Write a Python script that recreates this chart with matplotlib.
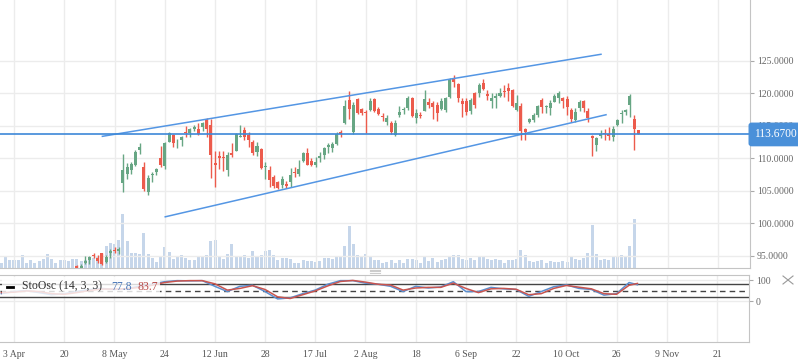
import numpy as np
import matplotlib
matplotlib.use("Agg")
import matplotlib.pyplot as plt
from matplotlib.lines import Line2D
from matplotlib.patches import Rectangle

plt.rcParams['font.family'] = ['Liberation Serif', 'DejaVu Serif']

# x axis = trading day index, one tick label every 12 bars
tick_idx = list(range(0, 169, 12))
tick_labels = ["3 Apr", "20", "8 May", "24", "12 Jun", "28", "17 Jul", "2 Aug",
               "18", "6 Sep", "22", "10 Oct", "26", "9 Nov", "21"]

# daily candles, first one at bar 15
candle_start = 15
opens = [93.5, 93.2, 93.9, 94.35, 95.1, 94.66, 95.38, 94.09, 95.38, 95.78, 95.78,
         106.15, 107.58, 108.2, 108.97, 111.27, 108.61, 104.77, 107.43, 107.84, 110.0,
         108.81, 112.55, 113.58, 112.74, 112.81, 114.0, 113.84, 114.5, 114.5, 114.86,
         115.99, 115.12, 109.27, 110.35, 110.2, 108.2, 110.77, 111.17, 113.32, 114.35,
         113.58, 112.55, 111.01, 111.43, 108.61, 108.2, 107.17, 106.43, 105.89, 105.97,
         106.4, 107.93, 107.66, 109.63, 110.81, 109.58, 108.92, 110.04, 110.5, 111.69,
         111.53, 112.2, 114.04, 115.43, 118.97, 114.09, 119.07, 117.58, 117.17, 117.38,
         119.07, 117.55, 116.5, 115.58, 115.43, 113.63, 116.66, 117.38, 117.69, 119.32,
         116.15, 116.73, 117.32, 118.61, 118.46, 118.2, 117.66, 117.5, 119.47, 122.2,
         121.38, 118.81, 118.81, 117.32, 120.0, 120.0, 121.53, 119.89, 118.86, 119.32,
         119.63, 120.4, 120.77, 120.5, 117.43, 118.1, 114.5, 115.53, 115.89, 116.66,
         118.97, 117.93, 117.69, 118.7, 119.23, 119.32, 119.12, 117.43, 115.89, 117.78,
         118.81, 117.27, 113.47, 112.04, 113.43, 113.84, 113.69, 113.32, 115.12, 116.81,
         117.17, 118.2, 116.04, 114.35]
highs = [93.6, 93.8, 95.0, 95.0, 95.4, 95.1, 95.5, 95.1, 96.0, 96.4, 96.4,
         110.66, 109.23, 109.47, 111.27, 112.3, 109.47, 107.43, 107.93, 108.46, 111.89,
         112.55, 114.09, 113.7, 113.0, 113.4, 114.97, 114.61, 115.12, 115.38, 115.58,
         116.15, 116.04, 111.17, 111.12, 111.17, 111.01, 112.3, 113.9, 115.12, 114.86,
         114.0, 112.81, 112.55, 111.6, 109.43, 108.89, 107.43, 106.58, 107.27, 106.55,
         108.46, 108.61, 109.73, 111.01, 111.63, 110.04, 110.24, 111.01, 111.81, 112.3,
         112.55, 114.09, 114.35, 118.97, 120.35, 118.66, 119.27, 117.73, 117.47, 119.23,
         119.27, 117.94, 116.97, 116.66, 115.73, 115.89, 118.04, 117.94, 119.66, 119.47,
         117.66, 117.17, 120.5, 119.23, 118.81, 118.66, 119.23, 119.47, 122.3, 122.81,
         121.58, 119.23, 119.23, 119.23, 120.24, 121.58, 122.2, 120.5, 120.0, 120.0,
         120.86, 121.27, 121.53, 120.66, 119.73, 118.46, 114.7, 116.24, 116.92, 118.2,
         119.32, 118.2, 118.97, 119.84, 120.35, 119.47, 119.63, 117.69, 117.69, 118.97,
         118.97, 117.69, 113.55, 113.32, 114.35, 114.5, 114.86, 115.02, 116.04, 117.43,
         117.63, 119.89, 116.66, 114.35]
lows = [93.1, 93.1, 93.7, 93.7, 94.7, 93.9, 93.6, 93.9, 94.6, 95.4, 95.27,
        104.86, 106.81, 107.58, 108.81, 110.66, 104.97, 104.35, 106.4, 107.43, 108.61,
        108.3, 112.55, 111.78, 111.53, 111.93, 113.23, 113.32, 114.24, 113.58, 114.24,
        113.32, 106.97, 105.63, 108.43, 108.09, 107.27, 110.15, 111.1, 113.3, 112.81,
        111.74, 110.5, 110.35, 108.3, 106.81, 105.58, 105.47, 105.23, 105.38, 105.38,
        105.63, 107.17, 107.35, 109.47, 108.9, 108.81, 108.71, 109.47, 109.89, 110.77,
        111.01, 112.0, 113.32, 115.27, 116.12, 113.69, 116.81, 116.73, 113.93, 117.2,
        117.12, 116.66, 115.81, 115.12, 113.73, 113.5, 116.3, 116.81, 117.43, 116.4,
        115.47, 116.15, 117.2, 117.69, 115.97, 115.81, 117.43, 117.17, 119.23, 121.01,
        118.61, 116.4, 116.66, 116.77, 117.78, 119.39, 120.5, 118.97, 117.78, 117.78,
        119.47, 119.47, 118.81, 117.94, 117.27, 112.81, 112.81, 115.38, 115.63, 116.4,
        117.01, 116.92, 116.66, 118.61, 118.46, 117.69, 116.71, 115.63, 115.63, 117.27,
        117.17, 115.63, 110.4, 111.12, 113.17, 112.81, 112.81, 112.66, 115.0, 115.47,
        116.66, 116.4, 111.27, 113.67]
closes = [93.2, 93.5, 94.2, 94.8, 94.9, 94.24, 93.73, 94.86, 95.78, 95.69, 96.0,
          108.2, 108.61, 109.12, 111.01, 111.78, 105.27, 106.92, 107.58, 108.35, 108.97,
          112.4, 113.93, 112.3, 112.89, 113.32, 113.89, 114.46, 114.77, 113.73, 115.47,
          114.46, 110.5, 109.01, 110.04, 110.09, 110.5, 110.46, 113.69, 113.43, 113.23,
          112.74, 110.86, 111.93, 108.46, 108.73, 106.66, 105.73, 105.43, 106.89, 105.81,
          107.43, 107.69, 108.35, 110.81, 108.97, 108.97, 109.38, 110.43, 111.58, 112.04,
          112.2, 113.69, 113.78, 118.04, 117.66, 118.2, 116.92, 117.01, 116.97, 118.86,
          117.32, 116.86, 116.37, 116.15, 114.04, 115.38, 117.17, 117.53, 119.32, 116.55,
          116.97, 116.58, 119.12, 118.2, 117.93, 117.01, 118.81, 119.27, 122.04, 121.69,
          119.32, 118.31, 117.07, 118.97, 118.2, 121.23, 120.66, 119.63, 119.32, 119.63,
          120.0, 120.24, 120.4, 118.1, 118.46, 114.2, 114.0, 116.04, 116.66, 118.04,
          117.93, 118.1, 118.46, 119.63, 120.0, 118.81, 117.93, 116.04, 117.07, 118.61,
          117.69, 116.15, 113.17, 113.07, 113.69, 113.69, 113.47, 114.5, 115.89, 116.97,
          117.43, 119.63, 114.5, 113.67]

# volume, first bar at -3
volume_start = -3
volume = [15, 33, 23, 23, 23, 38, 15, 23, 15, 21, 27, 41, 27, 15, 23, 23, 21, 26, 26, 20,
          23, 33, 28, 33, 43, 65, 75, 71, 83, 162, 80, 45, 45, 42, 105, 42, 29, 17, 35, 63,
          47, 27, 33, 38, 28, 23, 23, 32, 32, 38, 81, 83, 32, 26, 42, 71, 35, 32, 38, 29,
          50, 32, 38, 50, 53, 38, 23, 28, 28, 25, 15, 15, 23, 20, 20, 18, 20, 28, 28, 25,
          35, 35, 65, 125, 71, 38, 35, 41, 31, 23, 23, 15, 18, 23, 15, 23, 15, 26, 25, 23,
          15, 32, 20, 28, 18, 23, 26, 33, 38, 38, 26, 23, 28, 23, 35, 35, 26, 23, 25, 23,
          15, 23, 23, 26, 53, 38, 20, 18, 20, 23, 15, 20, 18, 18, 20, 18, 35, 26, 23, 28,
          45, 128, 41, 23, 26, 23, 35, 32, 38, 32, 65, 146]

last_price = 113.67

# drawn trend lines (bar index, price)
upper_line_idx = [21.1, 140.1]
upper_line_price = [113.38, 126.0]
lower_line_idx = [36.1, 141.3]
lower_line_price = [101.0, 116.7]

# stochastic oscillator (14, 3, 3)
osc_idx = list(range(-3, 148, 3)) + [149]
osc_k = [35, 45, 50, 40, 30, 35, 45, 55, 60, 55, 60, 70, 80, 92, 97, 96, 97, 70, 45, 70,
         75, 45, 10, 15, 35, 52, 80, 97, 97, 85, 80, 70, 45, 70, 62, 67, 92, 45, 45, 65,
         58, 55, 22, 45, 68, 77, 60, 55, 28, 35, 88, 77.8]
osc_d = [40, 42, 48, 45, 35, 32, 40, 50, 57, 57, 58, 65, 75, 88, 95, 97, 97, 82, 52, 60,
         73, 55, 20, 12, 30, 48, 72, 93, 98, 90, 80, 76, 52, 62, 65, 65, 85, 60, 40, 58,
         60, 56, 30, 35, 60, 74, 66, 58, 35, 32, 75, 83.7]

green = '#67a684'
red = '#ec5b4c'
grid_c = '#ececec'
line_blue = '#5496e4'

fig = plt.figure(figsize=(7.98, 3.63), dpi=100)
ax = fig.add_axes([0, 0.2625, 0.9398, 0.7375])
vol_ax = ax.twinx()
ax_osc = fig.add_axes([0, 0.0579, 0.9386, 0.1846])

xlim = (-3.34, 175.66)

# volume behind the candles
vol_x = np.arange(volume_start, volume_start + len(volume))
vol_ax.bar(vol_x, volume, width=0.72, color='#c6d6ea', linewidth=0)
vol_ax.set_ylim(0, 803)
vol_ax.set_xlim(*xlim)
vol_ax.axis('off')
vol_ax.set_zorder(0)
ax.set_zorder(1)
ax.patch.set_visible(False)

# candles
o = np.array(opens)
h = np.array(highs)
l = np.array(lows)
c = np.array(closes)
cx = np.arange(candle_start, candle_start + len(o))
cols = [green if cc >= oo else red for oo, cc in zip(o, c)]
ax.vlines(cx, l, h, colors=cols, linewidth=1, zorder=3)
body_low = np.minimum(o, c)
body_h = np.maximum(np.abs(c - o), 0.15)
ax.bar(cx, body_h, bottom=body_low, width=0.72, color=cols, linewidth=0, zorder=4)

# trend lines and last price
ax.plot(upper_line_idx, upper_line_price, color=line_blue, lw=1.1, zorder=5)
ax.plot(lower_line_idx, lower_line_price, color=line_blue, lw=1.1, zorder=5)
ax.axhline(last_price, color='#3d88d8', lw=1.2, zorder=5)

ax.set_xlim(*xlim)
ax.set_ylim(93.17, 134.35)
price_ticks = [95, 100, 105, 110, 115, 120, 125]
ax.set_yticks(price_ticks)
ax.set_yticklabels([f"{t:.4f}" for t in price_ticks])
ax.yaxis.tick_right()
ax.tick_params(axis='y', direction='out', length=3, color='#aaaaaa',
               labelcolor='#666666', labelsize=7, pad=2)
ax.set_xticks(tick_idx)
ax.tick_params(axis='x', length=0, labelbottom=False)
ax.grid(True, color=grid_c, lw=1)
ax.set_axisbelow(True)
for s in ['top', 'left']:
    ax.spines[s].set_visible(False)
ax.spines['right'].set_color('#c4c4c4')
ax.spines['bottom'].set_color('#c4c4c4')

ax.annotate(f"{last_price:.4f}", xy=(1, last_price), xycoords=('axes fraction', 'data'),
            xytext=(3.2, 0), textcoords='offset points', ha='left', va='center',
            color='white', fontsize=8.3,
            bbox=dict(boxstyle='round,pad=0.45,rounding_size=0.2', fc='#4a90d9', ec='#4a90d9'),
            annotation_clip=False, zorder=10)

# oscillator panel
ax_osc.plot(osc_idx, osc_k, color='#5b8fd0', lw=1.1, zorder=3)
ax_osc.plot(osc_idx, osc_d, color='#c9554f', lw=1.1, zorder=3)
ax_osc.axhline(80, color='#444444', lw=1, zorder=2)
ax_osc.axhline(20, color='#444444', lw=1, zorder=2)
ax_osc.axhline(50, color='#444444', lw=1, ls=(0, (4, 3)), zorder=2)
ax_osc.set_xlim(*xlim)
ax_osc.set_ylim(-195, 124)
ax_osc.set_yticks([0, 100])
ax_osc.set_yticklabels(['0', '100'])
ax_osc.yaxis.tick_right()
ax_osc.tick_params(axis='y', direction='out', length=3, color='#aaaaaa',
                   labelcolor='#666666', labelsize=7, pad=2)
ax_osc.set_xticks(tick_idx)
ax_osc.set_xticklabels(tick_labels)
ax_osc.tick_params(axis='x', length=0, labelsize=7, labelcolor='#555555', pad=6)
ax_osc.grid(True, color=grid_c, lw=1)
ax_osc.set_axisbelow(True)
ax_osc.spines['left'].set_visible(False)
for s in ['top', 'right', 'bottom']:
    ax_osc.spines[s].set_color('#c4c4c4')

# legend label with faded background
ax_osc.add_patch(Rectangle((0.003, 0.69), 0.21, 0.28, transform=ax_osc.transAxes,
                           facecolor='white', alpha=0.8, lw=0, zorder=6))
ax_osc.add_line(Line2D([0.009, 0.018], [0.825, 0.825], transform=ax_osc.transAxes,
                       color='black', lw=2, zorder=7))
ax_osc.text(0.030, 0.825, "StoOsc (14, 3, 3)", transform=ax_osc.transAxes,
            fontsize=8.5, color='#333333', va='center', ha='left', zorder=7)
ax_osc.text(0.149, 0.825, f"{osc_k[-1]:.1f}", transform=ax_osc.transAxes,
            fontsize=8.5, color='#4a78b8', va='center', ha='left', zorder=7)
ax_osc.text(0.184, 0.825, f"{osc_d[-1]:.1f}", transform=ax_osc.transAxes,
            fontsize=8.5, color='#b84a48', va='center', ha='left', zorder=7)

# small close cross and resize handle
W, H = 798.0, 363.0
for (x0, y0, x1, y1) in [(783, 276, 793, 284), (783, 284, 793, 276)]:
    fig.add_artist(Line2D([x0 / W, x1 / W], [1 - y0 / H, 1 - y1 / H], color='#999999', lw=0.8))
for yy in [269.5, 271, 272.5]:
    fig.add_artist(Line2D([370 / W, 380 / W], [1 - yy / H, 1 - yy / H], color='#cccccc', lw=0.8))

fig.savefig('out.png', dpi=100)
